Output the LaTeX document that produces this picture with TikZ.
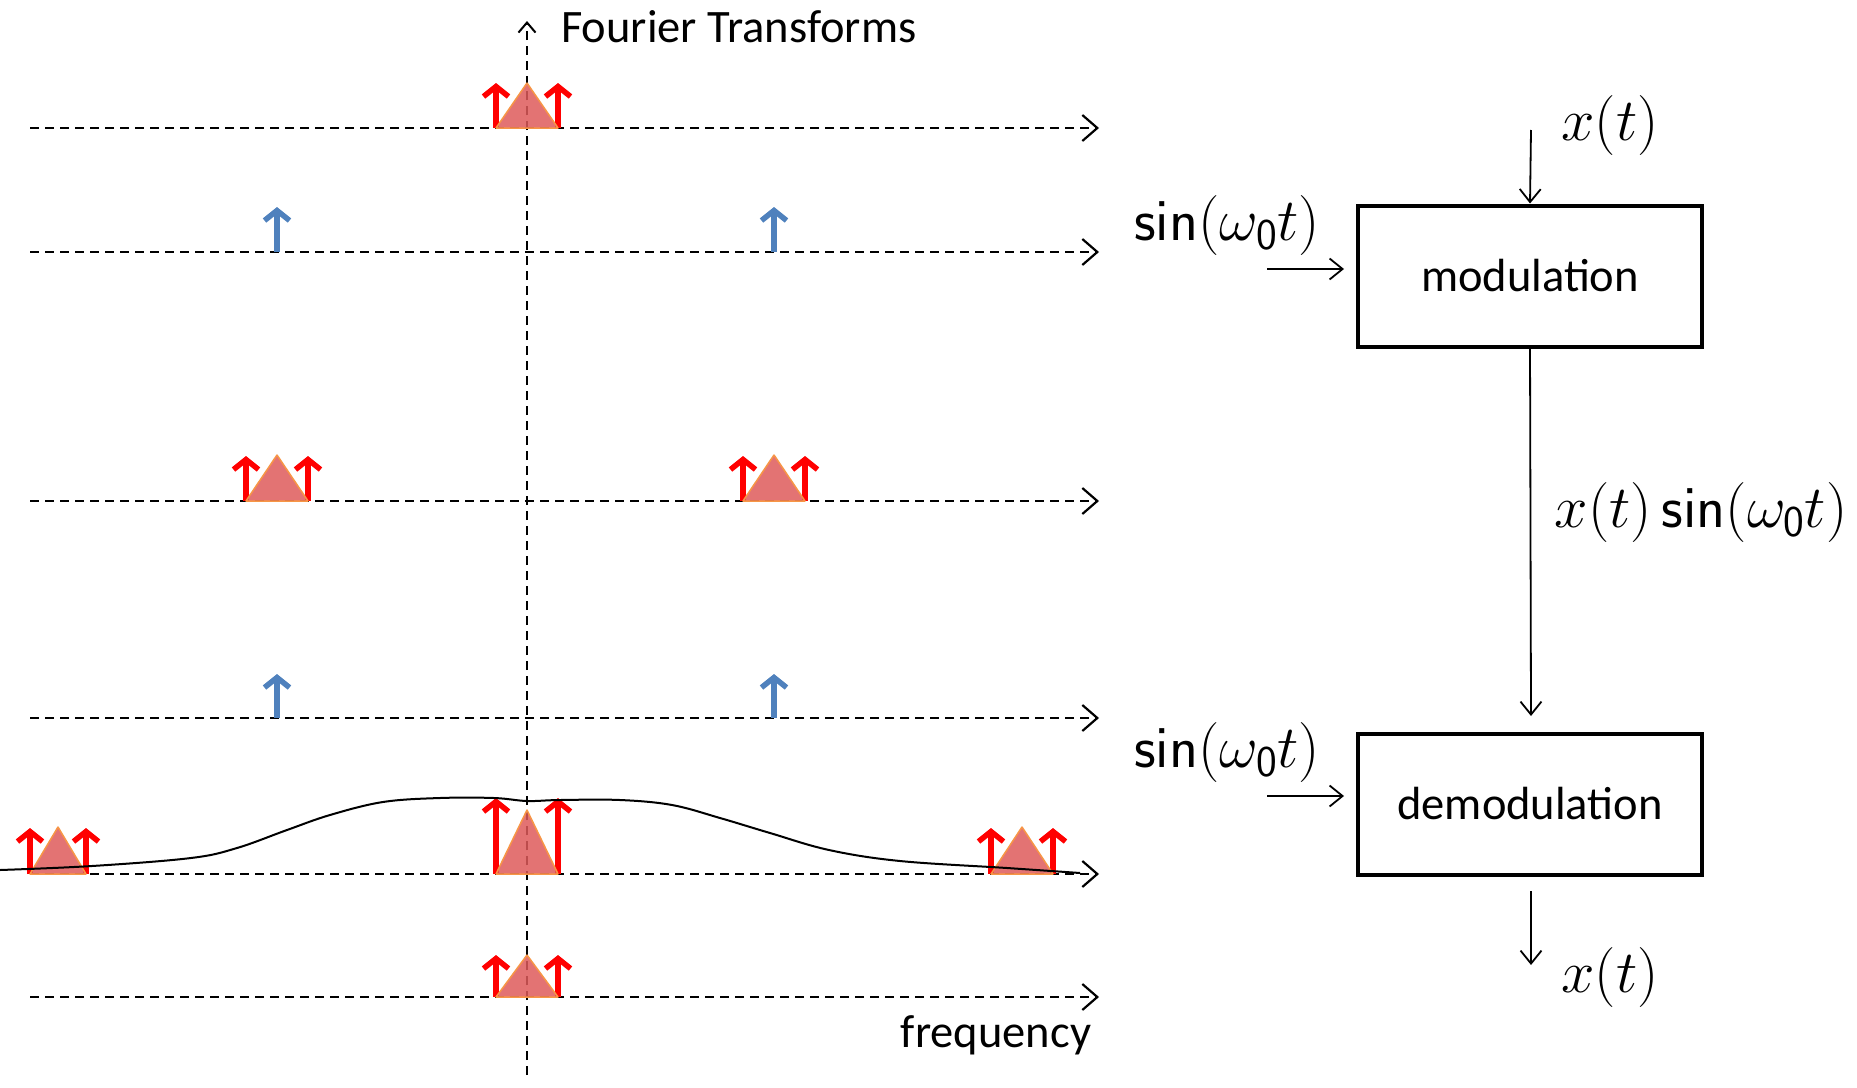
\RequirePackage{fix-cm}
\documentclass[tikz,border=0pt]{standalone}
\usepackage{fontspec}
\setmainfont{Carlito}
\newfontfamily\lmsansfam{Latin Modern Sans}
\usetikzlibrary{arrows.meta}
\definecolor{trifill}{RGB}{222,90,90}
\definecolor{triedge}{RGB}{247,150,70}
\definecolor{sigblue}{RGB}{79,129,189}
\tikzset{
  axisline/.style={line width=2.2pt, dash pattern=on 9pt off 6pt,
    -{Straight Barb[length=15pt,width=26pt,line width=2.2pt]}},
  vaxis/.style={line width=2.2pt, dash pattern=on 9pt off 6pt,
    -{Straight Barb[length=10pt,width=17pt,line width=2pt]}},
  redarr/.style={draw=red, line width=5.5pt, -{Straight Barb[length=10pt,width=25pt,line width=5.5pt]}},
  bluearr/.style={draw=sigblue, line width=5.5pt, -{Straight Barb[length=10pt,width=25pt,line width=5.5pt]}},
  tri/.style={fill=trifill, fill opacity=0.85, draw=triedge, line width=1.5pt, line join=round},
  sig/.style={line width=1.8pt, -{Straight Barb[length=13pt,width=21pt,line width=1.8pt]}},
  blockbox/.style={draw, line width=4pt, minimum width=344pt, minimum height=141pt, inner sep=0pt,
    font=\fontsize{46.5}{54}\selectfont},
  txt/.style={font=\fontsize{46.5}{54}\selectfont, inner sep=0pt},
  mth/.style={font=\fontsize{60}{68}\selectfont, inner sep=0pt},
}
\newcommand\sfsin{\mbox{\lmsansfam sin}}
\newcommand\sfzero{\mbox{\lmsansfam\fontsize{44}{50}\selectfont 0}}
\newcommand\spectri[5]{% cx, base y, half width, triangle height, arrow height
  \draw[redarr] ({#1-#3},{#2}) -- ++(0,{-#5});
  \draw[redarr] ({#1+#3},{#2}) -- ++(0,{-#5});
  \filldraw[tri] ({#1-#3},{#2}) -- ({#1},{#2-#4}) -- ({#1+#3},{#2}) -- cycle;
}
\begin{document}
\begin{tikzpicture}[x=1pt,y=-1pt]
\useasboundingbox (0,0) rectangle (1857,1087);

% axes coordinates
\coordinate (v0) at (527,1075);
\coordinate (v1) at (527,21);
\foreach \n/\yy in {1/128,2/252,3/501,4/718,5/874,6/997}{
  \coordinate (a\n) at (30,\yy);
  \coordinate (b\n) at (1099,\yy);
}
\foreach \n in {1,...,6}{ \draw[axisline] (a\n) -- (b\n); }
\draw[vaxis] (v0) -- (v1);

\node[txt, anchor=base west] (ft) at (561,42) {Fourier Transforms};
\node[txt, anchor=base] (freq) at (996,1047) {frequency};

% blue carriers
\foreach \xx in {277,774}{
  \draw[bluearr] (\xx,252) -- (\xx,207);
  \draw[bluearr] (\xx,718) -- (\xx,674);
}

% spectra
\spectri{527}{128}{31}{45}{45}
\spectri{277}{501}{31}{46}{45}
\spectri{774}{501}{31}{46}{45}
\spectri{58}{874}{28}{47}{46}
\spectri{527}{874}{31}{64}{76}
\spectri{1022}{874}{31}{47}{46}
\spectri{527}{997}{31}{42}{42}

% filter curve
\draw[line width=2pt] plot[smooth, tension=0.6] coordinates {
  (0,870) (92,866) (191,858) (237,848) (287,830) (330,815) (383,802) (440,798)
  (494,798) (527,801) (560,800) (620,800) (672,805) (720,818) (770,833)
  (829,850) (900,861) (1007,868) (1080,873)};

% block diagram
\node[blockbox] (mod) at (1530,276) {modulation};
\node[blockbox] (demod) at (1530,804) {demodulation};

\node[mth] (xin) at (1610,125) {$x(t)$};
\node[mth] (s1) at (1227,225) {$\sfsin(\omega_{\sfzero}t)$};
\node[mth] (s2) at (1227,752) {$\sfsin(\omega_{\sfzero}t)$};
\node[mth] (xs) at (1701,512) {$x(t)\,\sfsin(\omega_{\sfzero}t)$};
\node[mth] (xout) at (1610,977) {$x(t)$};

\coordinate (xinTop) at (1531,130);
\coordinate (s1a) at (1267,269);
\coordinate (s1b) at (1344,269);
\coordinate (s2a) at (1267,796);
\coordinate (s2b) at (1344,796);
\coordinate (midEnd) at (1531,716);
\coordinate (outA) at (1531,891);
\coordinate (outB) at (1531,965);

\draw[sig] (xinTop) -- (mod.north);
\draw[sig] (s1a) -- (s1b);
\draw[sig] (s2a) -- (s2b);
\draw[sig] (mod.south) -- (midEnd);
\draw[sig] (outA) -- (outB);
\end{tikzpicture}
\end{document}
